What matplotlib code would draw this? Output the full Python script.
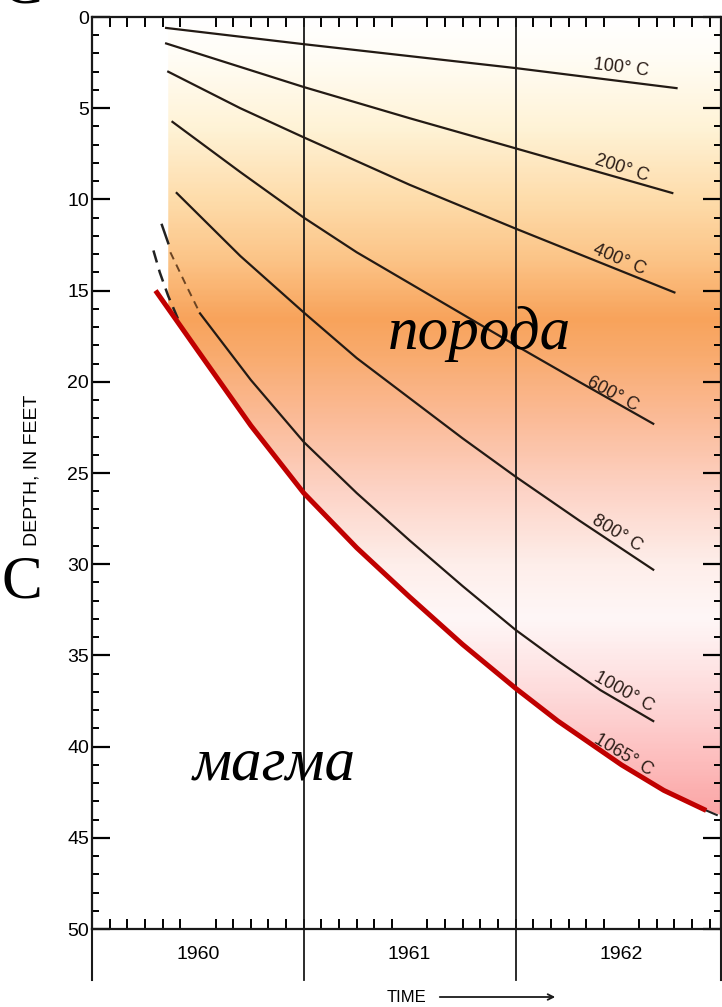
import numpy as np
import matplotlib.pyplot as plt
from matplotlib.colors import LinearSegmentedColormap
from matplotlib.patches import Polygon
from matplotlib.ticker import MultipleLocator

# year columns on the time axis
year_edges = [1961, 1962]
year_centers = [1960.5, 1961.5, 1962.5]
year_labels = ['1960', '1961', '1962']
depth_ticks = [0, 5, 10, 15, 20, 25, 30, 35, 40, 45, 50]

# isotherms: time (decimal year) vs depth (feet)
t100 = [1960.35, 1961.0, 1962.0, 1962.76]
d100 = [0.6, 1.49, 2.8, 3.9]
t200 = [1960.35, 1961.0, 1961.5, 1962.0, 1962.74]
d200 = [1.45, 3.84, 5.55, 7.2, 9.65]
t400 = [1960.36, 1960.7, 1961.0, 1961.5, 1962.0, 1962.75]
d400 = [3.0, 5.0, 6.6, 9.2, 11.6, 15.1]
t600 = [1960.38, 1960.7, 1961.0, 1961.25, 1961.5, 1961.75, 1962.0, 1962.3, 1962.65]
d600 = [5.75, 8.5, 11.0, 12.9, 14.6, 16.3, 18.0, 20.0, 22.3]
t800 = [1960.40, 1960.7, 1961.0, 1961.25, 1961.5, 1961.75, 1962.0, 1962.3, 1962.65]
d800 = [9.65, 13.1, 16.2, 18.7, 20.9, 23.1, 25.2, 27.6, 30.3]
t1000 = [1960.51, 1960.75, 1961.0, 1961.25, 1961.5, 1961.75, 1962.0, 1962.2, 1962.4, 1962.65]
d1000 = [16.25, 19.9, 23.3, 26.1, 28.7, 31.2, 33.6, 35.3, 36.9, 38.6]
t1000_dash = [1960.37, 1960.44, 1960.51]
d1000_dash = [12.9, 14.6, 16.25]
t1065 = [1960.30, 1960.5, 1960.75, 1961.0, 1961.25, 1961.5, 1961.75, 1962.0, 1962.2, 1962.5, 1962.7, 1962.90]
d1065 = [15.0, 18.3, 22.4, 26.1, 29.1, 31.8, 34.4, 36.8, 38.6, 41.0, 42.4, 43.5]
t1065_black = [1962.7, 1962.90, 1962.95]
d1065_black = [42.4, 43.5, 43.75]

# old dashed lines left of the shading
told_a = [1960.33, 1960.36]
dold_a = [11.4, 12.4]
told_b = [1960.29, 1960.32, 1960.36, 1960.43]
dold_b = [12.8, 14.0, 15.3, 17.2]

iso_text = ['100° C', '200° C', '400° C', '600° C', '800° C', '1000° C', '1065° C']
iso_text_t = [1962.50, 1962.50, 1962.49, 1962.46, 1962.48, 1962.51, 1962.51]
iso_text_d = [2.8, 8.3, 13.3, 20.7, 28.3, 37.0, 40.45]
iso_text_rot = [-7, -18, -23, -28, -31, -29, -31]

# gradient colour stops (depth in feet, colour)
grad_depth = [0, 2, 6, 10, 13, 16.5, 18.5, 22, 26, 30, 33, 37, 41, 44]
grad_color = ['#ffffff', '#fffdf6', '#fff3d6', '#fedcaa', '#fcc68a', '#f8a35b',
              '#f9ab6e', '#fbbb98', '#fdd3c6', '#feeeea', '#fff7f7', '#fedcdc',
              '#fdbcbc', '#fba3a3']

XMIN, XMAX = 1960.0, 1962.97
LINE = '#231a14'
SANS = ['Liberation Sans', 'DejaVu Sans']

fig = plt.figure(figsize=(7.22, 10.07), dpi=100)
ax = fig.add_axes([92 / 722, 78 / 1007, (721 - 92) / 722, 912 / 1007])
ax.set_xlim(XMIN, XMAX)
ax.set_ylim(50, 0)

# shaded rock zone clipped by the 1065 curve
edge_t = 1960.36
edge_d = np.interp(edge_t, t1065, d1065)
poly_pts = [(edge_t, 0), (XMAX, 0), (XMAX, 43.75)]
poly_pts += [(t, d) for t, d in zip(t1065[::-1], d1065[::-1]) if t > edge_t]
poly_pts += [(edge_t, edge_d)]
clip = Polygon(poly_pts, closed=True, transform=ax.transData, facecolor='none', edgecolor='none')
ax.add_patch(clip)

stops = [(d / grad_depth[-1], c) for d, c in zip(grad_depth, grad_color)]
cmap = LinearSegmentedColormap.from_list('rock', stops)
grad = np.linspace(0, 1, 400).reshape(-1, 1)
im = ax.imshow(grad, cmap=cmap, aspect='auto', extent=[XMIN, XMAX, grad_depth[-1], 0],
               interpolation='bilinear', zorder=1)
im.set_clip_path(clip)

# year separators, running below the axis
for x in year_edges:
    ax.plot([x, x], [0, 52.8], color='#1a1a1a', lw=1.3, clip_on=False, zorder=3)
for x in [XMIN, XMAX]:
    ax.plot([x, x], [50, 52.8], color='#1a1a1a', lw=1.5, clip_on=False, zorder=3)

# isotherms
for t, d in [(t100, d100), (t200, d200), (t400, d400), (t600, d600), (t800, d800), (t1000, d1000)]:
    ax.plot(t, d, color=LINE, lw=1.6, zorder=4, solid_joinstyle='round')
ax.plot(t1000_dash, d1000_dash, color='#6b4423', lw=1.4, ls=(0, (4, 3)), zorder=4)
ax.plot(told_a, dold_a, color='#222222', lw=1.8, zorder=4)
ax.plot(told_b, dold_b, color='#222222', lw=1.8, ls=(0, (5, 3)), zorder=4)
ax.plot(t1065_black, d1065_black, color='#222222', lw=1.5, zorder=4)
ax.plot(t1065, d1065, color='#c00000', lw=3.6, zorder=5, solid_capstyle='butt',
        solid_joinstyle='round')

for txt, t, d, r in zip(iso_text, iso_text_t, iso_text_d, iso_text_rot):
    ax.text(t, d, txt, rotation=r, rotation_mode='anchor', ha='center', va='center',
            fontsize=13, color='#2a1c16', family=SANS, zorder=6)

ax.text(1961.83, 17.4, 'порода', fontsize=44, style='italic', family='Liberation Serif',
        ha='center', va='center', zorder=6)
ax.text(1960.86, 41.0, 'магма', fontsize=44, style='italic', family='Liberation Serif',
        ha='center', va='center', zorder=6)

# axes styling
for s in ax.spines.values():
    s.set_linewidth(1.6)
    s.set_color('#1a1a1a')
ax.yaxis.set_minor_locator(MultipleLocator(1))
ax.set_yticks(depth_ticks)
ax.tick_params(axis='y', which='major', direction='in', length=13, width=1.6, left=True, right=True,
               labelsize=14, pad=2)
ax.tick_params(axis='y', which='minor', direction='in', length=5, width=1.4, left=True, right=True)
ax.set_xticks(year_centers, year_labels)
ax.set_xticks(np.arange(XMIN + 1 / 12, XMAX, 1 / 12), minor=True)
ax.tick_params(axis='x', which='major', length=0, labelsize=14, pad=12)
ax.tick_params(axis='x', which='minor', direction='in', length=7, width=1.4, top=True, bottom=True)
for lab in ax.get_xticklabels() + ax.get_yticklabels():
    lab.set_family(SANS)

ax.set_ylabel('DEPTH, IN FEET', fontsize=14, family=SANS)
ax.yaxis.set_label_coords(-0.082, 0.503)

# time caption with arrow
fig.text(407 / 722, 1 - 997 / 1007, 'TIME', fontsize=12, ha='center', va='center', family=SANS)
fig.add_artist(plt.Annotation('', xy=(558 / 722, 1 - 997 / 1007), xytext=(437 / 722, 1 - 997 / 1007),
                              xycoords='figure fraction',
                              arrowprops=dict(arrowstyle='->', color='#1a1a1a', lw=1.3)))

# slide letters at the left edge
fig.text(22 / 722, 1 - 583 / 1007, 'C', fontsize=44, family='Liberation Serif', ha='center', va='center')
fig.text(22 / 722, 1 + 12 / 1007, 'C', fontsize=44, family='Liberation Serif', ha='center', va='center')

fig.savefig('out.png', dpi=100, facecolor='white')
